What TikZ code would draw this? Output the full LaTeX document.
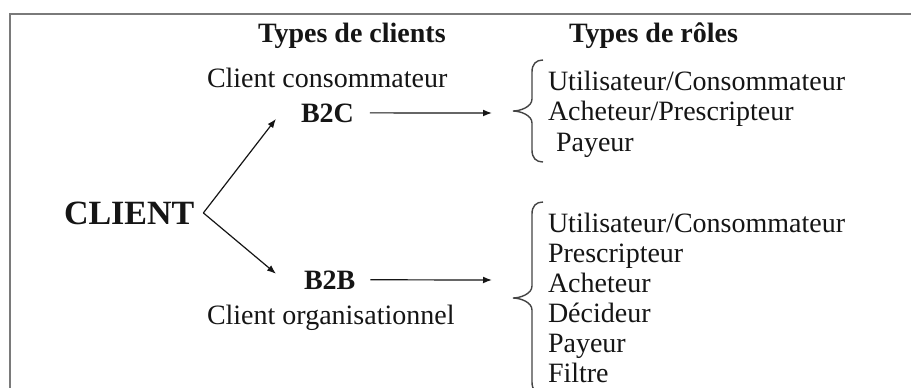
\documentclass[tikz,border=0pt]{standalone}
\usepackage{fontspec}
\setmainfont{Liberation Serif}
\usetikzlibrary{arrows.meta}
\definecolor{ink}{HTML}{151515}
\definecolor{framegray}{HTML}{7A7A7A}
\tikzset{
  txt/.style={inner sep=0pt, outer sep=0pt, text=ink, font=\fontsize{14pt}{17pt}\selectfont},
  head/.style={txt, font=\fontsize{14pt}{17pt}\selectfont\bfseries},
  big/.style={txt, font=\fontsize{17pt}{20pt}\selectfont\bfseries},
  conn/.style={draw=ink, line width=0.6pt, -{Latex[length=4.5pt,width=3.4pt]}},
  bracepath/.style={draw=ink!80, line width=0.7pt},
  framepath/.style={draw=framegray, line width=1.4pt}
}
\begin{document}
\begin{tikzpicture}[x=0.5pt, y=-0.5pt]
\useasboundingbox (0,0) rectangle (911,387);
\fill[white] (0,0) rectangle (911,387);
% outer frame (top and left edges)
\draw[framepath] (10,390) -- (10,14) -- (915,14);

% column headings
\node[head, anchor=base west] (hclients) at (258,42) {Types de clients};
\node[head, anchor=base west] (hroles) at (569,42) {Types de rôles};

% client types
\node[big, anchor=base west] (client) at (64,224) {CLIENT};
\node[txt, anchor=base west] (conso) at (207,87) {Client consommateur};
\node[head, anchor=base west] (b2c) at (301,122) {B2C};
\node[head, anchor=base west] (b2b) at (304,289) {B2B};
\node[txt, anchor=base west] (orga) at (207,324) {Client organisationnel};

% branch from CLIENT to both client types
\draw[conn] ([shift={(9,0)}]client.east) -- ([shift={(-25,6)}]b2c.west);
\draw[conn] ([shift={(9,0)}]client.east) -- ([shift={(-28,-6)}]b2b.west);

% arrows towards the role lists
\coordinate (b2cend) at (492,113);
\coordinate (b2bend) at (492,280);
\draw[conn] ([xshift=8pt]b2c.east) -- (b2cend);
\draw[conn] ([xshift=7.5pt]b2b.east) -- (b2bend);

% braces
\draw[bracepath] (543,60) .. controls (536,60) and (532,64) .. (532,72)
  -- (532,99) .. controls (532,107) and (520,111) .. (513,111)
  .. controls (520,111) and (532,115) .. (532,123)
  -- (532,150) .. controls (532,158) and (536,162) .. (543,162);
\draw[bracepath] (543,202) .. controls (536,202) and (532,206) .. (532,214)
  -- (532,286) .. controls (532,294) and (520,298) .. (513,298)
  .. controls (520,298) and (532,302) .. (532,310)
  -- (532,382) .. controls (532,390) and (536,394) .. (543,394);

% roles of the consumer client
\node[txt, anchor=base west] (r1) at (548,90) {Utilisateur/Consommateur};
\node[txt, anchor=base west] (r2) at (548,120) {Acheteur/Prescripteur};
\node[txt, anchor=base west] (r3) at (556,151) {Payeur};

% roles of the organisational client
\node[txt, anchor=base west] (o1) at (548,232) {Utilisateur/Consommateur};
\node[txt, anchor=base west] (o2) at (548,262) {Prescripteur};
\node[txt, anchor=base west] (o3) at (548,292) {Acheteur};
\node[txt, anchor=base west] (o4) at (548,322) {Décideur};
\node[txt, anchor=base west] (o5) at (548,352) {Payeur};
\node[txt, anchor=base west] (o6) at (548,382) {Filtre};
\end{tikzpicture}
\end{document}
